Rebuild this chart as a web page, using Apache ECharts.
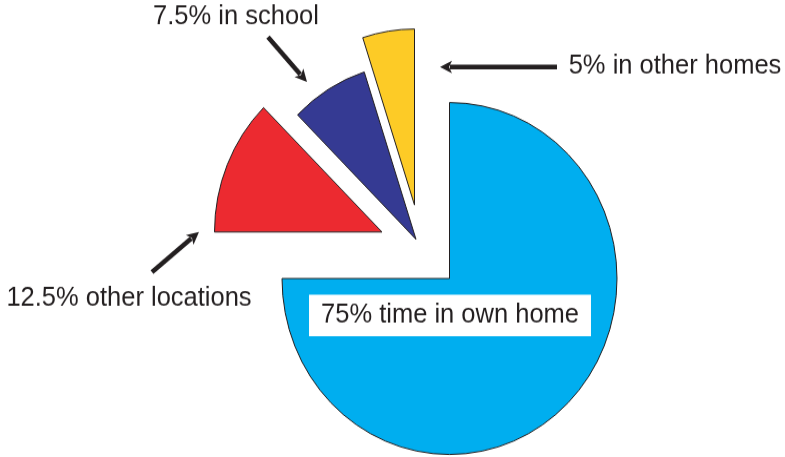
<!DOCTYPE html>
<html>
<head>
<meta charset="utf-8">
<script src="https://cdn.jsdelivr.net/npm/echarts@6/dist/echarts.min.js"></script>
<style>
  html, body { margin: 0; padding: 0; background: #fff; width: 785px; height: 457px; overflow: hidden; }
  #frame { width: 785px; height: 457px; overflow: visible; }
  /* the drawing is slightly taller than wide: stretch the canvas vertically */
  #chart { width: 785px; height: 435px; transform: scaleY(1.0506); transform-origin: 0 0; }
</style>
</head>
<body>
<div id="frame"><div id="chart"></div></div>
<script>
// Where the time is spent (percent of total)
const categories = ['time in own home', 'other locations', 'in school', 'in other homes'];
const shares = [75, 12.5, 7.5, 5];

// Styling and layout, kept apart from the data (page coordinates)
const stretch = 1.0506;
const sliceColors = ['#00AEEF', '#EC2A30', '#353A93', '#FDCB26'];
const sliceCenters = [[449.5, 278.5], [382, 232], [416, 239.3], [414.5, 205]];
const labelSpots = [[450, 315.5], [129, 298], [236, 17], [675, 66]];
const pieRadius = 167.5;
const ink = '#231f20';
const fontFamily = '"Liberation Sans", Arial, Helvetica, sans-serif';

// Annotation arrows: [tail, tip]
const arrows = [
  [[152, 272], [199, 232]],
  [[268, 37], [307, 82]],
  [[557, 67], [440, 67]]
];

// page coordinates -> chart coordinates (undo the vertical stretch)
const toChart = p => [p[0], p[1] / stretch];

// One pie per exploded slice: every pie carries the full data so the
// angles come from the shares, but only its own slice is painted.
const series = categories.map((_, i) => ({
  type: 'pie',
  center: toChart(sliceCenters[i]),
  radius: pieRadius,
  startAngle: 90,
  clockwise: true,
  silent: true,
  avoidLabelOverlap: false,
  labelLine: { show: false },
  data: shares.map((v, j) => ({
    name: categories[j],
    value: v,
    itemStyle: j === i
      ? { color: sliceColors[j], borderColor: ink, borderWidth: 1 }
      : { color: 'rgba(0,0,0,0)', borderWidth: 0 },
    label: j === i
      ? Object.assign({
          show: true,
          position: 'inside',
          formatter: p => p.value + '% ' + p.name,
          color: ink,
          fontSize: 25.5,
          fontFamily: fontFamily
        }, j === 0 ? { backgroundColor: '#fff', padding: [7, 12, 6.5, 12] } : {})
      : { show: false }
  })),
  labelLayout: () => {
    const p = toChart(labelSpots[i]);
    return { x: p[0], y: p[1], align: 'center', verticalAlign: 'middle' };
  }
}));

// Arrow shafts with small triangular heads
function arrowGraphic(tailPage, tipPage) {
  const tail = toChart(tailPage), tip = toChart(tipPage);
  const dx = tip[0] - tail[0], dy = tip[1] - tail[1];
  const len = Math.hypot(dx, dy);
  const ux = dx / len, uy = dy / len;
  const headLen = 12, headHalf = 6;
  const base = [tip[0] - ux * headLen, tip[1] - uy * headLen];
  return [
    {
      type: 'line',
      shape: { x1: tail[0], y1: tail[1], x2: base[0] + ux * 2, y2: base[1] + uy * 2 },
      style: { stroke: ink, lineWidth: 4.5 },
      silent: true
    },
    {
      type: 'polygon',
      shape: {
        points: [
          tip,
          [base[0] - uy * headHalf, base[1] + ux * headHalf],
          [base[0] + ux * 3, base[1] + uy * 3],
          [base[0] + uy * headHalf, base[1] - ux * headHalf]
        ]
      },
      style: { fill: ink },
      silent: true
    }
  ];
}

const chart = echarts.init(document.getElementById('chart'), null, { renderer: 'canvas' });
chart.setOption({
  animation: false,
  backgroundColor: '#fff',
  series: series,
  graphic: arrows.flatMap(a => arrowGraphic(a[0], a[1]))
});
</script>
</body>
</html>
